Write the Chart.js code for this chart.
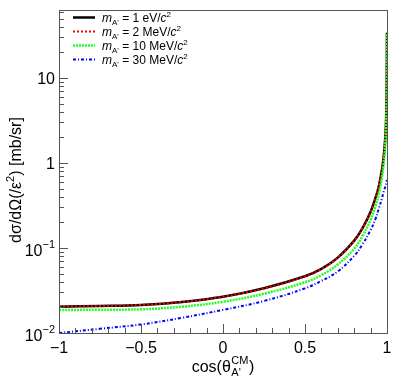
<!DOCTYPE html>
<html>
<head>
<meta charset="utf-8">
<script src="https://cdn.jsdelivr.net/npm/chart.js@4.4.1/dist/chart.umd.min.js"></script>
<style>
body { margin: 0; background: #fff; }
#wrap { width: 394px; height: 381px; }
</style>
</head>
<body>
<div id="wrap"><canvas id="chartCanvas" width="394" height="381"></canvas></div>
<script>
// cos(theta_A'^CM) sample points and cross sections (mb/sr per eps^2)
const cosTheta  = [-1, -0.75, -0.5, -0.25, 0, 0.25, 0.5, 0.6, 0.7, 0.8, 0.85, 0.9, 0.93, 0.95, 0.97, 0.98, 0.99, 0.995, 0.998, 1];
const mass1eV   = [0.0204, 0.0208, 0.0214, 0.0232, 0.0267, 0.0336, 0.0465, 0.0567, 0.077, 0.122, 0.17, 0.267, 0.39, 0.53, 0.85, 1.2, 2.04, 3.5, 8, 34];
const mass2MeV  = [0.0204, 0.0208, 0.0214, 0.0232, 0.0267, 0.0335, 0.0463, 0.0565, 0.077, 0.121, 0.17, 0.265, 0.39, 0.53, 0.84, 1.19, 2.0, 3.45, 7.9, 33];
const mass10MeV = [0.0186, 0.0188, 0.019, 0.0204, 0.0233, 0.029, 0.0395, 0.048, 0.064, 0.098, 0.137, 0.215, 0.31, 0.43, 0.70, 1.0, 1.75, 3.1, 7, 33];
const mass30MeV = [0.0100, 0.0112, 0.0126, 0.0151, 0.0187, 0.0238, 0.0335, 0.041, 0.053, 0.081, 0.11, 0.163, 0.22, 0.29, 0.39, 0.46, 0.53, 0.58, 0.61, 0.63];

const legendMasses = ['1 eV', '2 MeV', '10 MeV', '30 MeV'];
const xTickValues = [-1, -0.5, 0, 0.5, 1];
const xTickLabels = ['\u22121', '\u22120.5', '0', '0.5', '1'];
const yTickValues = [0.01, 0.1, 1, 10];
const yTickLabels = [['10', '\u22122'], ['10', '\u22121'], ['1', ''], ['10', '']];

const FONT = '"Liberation Sans", Arial, sans-serif';

function pts(ys) {
    return cosTheta.map((x, i) => ({ x: x, y: ys[i] }));
}

const seriesStyle = [
    { data: mass1eV,   color: '#000000', width: 2.5, dash: [] },
    { data: mass2MeV,  color: '#ff0000', width: 2,   dash: [2, 2] },
    { data: mass10MeV, color: '#22ff22', width: 2.5, dash: [2, 1] },
    { data: mass30MeV, color: '#0000ff', width: 2,   dash: [3, 2, 1, 2] }
];

// draw text made of pieces: {t, size, italic, dy}
function richWidth(ctx, parts) {
    let w = 0;
    parts.forEach(p => {
        ctx.font = (p.italic ? 'italic ' : '') + p.size + 'px ' + FONT;
        w += ctx.measureText(p.t).width;
    });
    return w;
}
function richText(ctx, parts, x, y) {
    parts.forEach(p => {
        ctx.font = (p.italic ? 'italic ' : '') + p.size + 'px ' + FONT;
        ctx.fillText(p.t, x, y + (p.dy || 0));
        x += ctx.measureText(p.t).width;
    });
    return x;
}

const decorPlugin = {
    id: 'decor',
    afterDatasetsDraw(chart) {
        const ctx = chart.ctx;
        const a = chart.chartArea;
        const xs = chart.scales.x, ys = chart.scales.y;
        ctx.save();
        ctx.strokeStyle = '#555';
        ctx.lineWidth = 1;
        ctx.setLineDash([]);
        ctx.strokeRect(Math.round(a.left) + 0.5, Math.round(a.top) + 0.5,
                       Math.round(a.right - a.left), Math.round(a.bottom - a.top));

        // x ticks (inside, pointing up)
        ctx.beginPath();
        for (let i = 0; i <= 20; i++) {
            const v = -1 + i * 0.1;
            const px = Math.round(xs.getPixelForValue(v)) + 0.5;
            const len = (i % 5 === 0) ? 9 : 5;
            ctx.moveTo(px, a.bottom);
            ctx.lineTo(px, a.bottom - len);
        }
        // y ticks (inside, pointing right)
        for (let d = -2; d <= 1; d++) {
            for (let k = 1; k <= 9; k++) {
                const v = k * Math.pow(10, d);
                if (v > ys.max) break;
                const py = Math.round(ys.getPixelForValue(v)) + 0.5;
                const len = (k === 1) ? 9 : 5;
                ctx.moveTo(a.left, py);
                ctx.lineTo(a.left + len, py);
            }
        }
        ctx.stroke();

        ctx.fillStyle = '#000';
        // x tick labels
        ctx.textAlign = 'center';
        ctx.textBaseline = 'alphabetic';
        ctx.font = '16px ' + FONT;
        xTickValues.forEach((v, i) => {
            ctx.fillText(xTickLabels[i], xs.getPixelForValue(v), a.bottom + 20);
        });

        // y tick labels with exponents
        ctx.textAlign = 'left';
        yTickValues.forEach((v, i) => {
            const py = ys.getPixelForValue(v);
            const lab = yTickLabels[i];
            const parts = [{ t: lab[0], size: 16 }];
            let dy = 6;
            if (lab[1]) {
                parts.push({ t: lab[1], size: 11, dy: -8 });
                dy = 8;
            }
            const w = richWidth(ctx, parts);
            richText(ctx, parts, a.left - 4 - w, py + dy);
        });

        // x axis title
        const xt1 = [{ t: 'cos(\u03b8', size: 16 }];
        const w1 = richWidth(ctx, xt1);
        ctx.font = '11px ' + FONT;
        const wSup = ctx.measureText('CM').width;
        const wSub = ctx.measureText("A'").width;
        const wScript = Math.max(wSup, wSub);
        ctx.font = '16px ' + FONT;
        const wClose = ctx.measureText(')').width;
        const total = w1 + wScript + wClose + 1;
        let tx = (a.left + a.right) / 2 - total / 2;
        const base = 372;
        tx = richText(ctx, xt1, tx, base);
        ctx.font = '11px ' + FONT;
        ctx.fillText('CM', tx + 0.5, base - 8);
        ctx.fillText("A'", tx + 0.5, base + 4);
        tx += wScript + 1;
        ctx.font = '16px ' + FONT;
        ctx.fillText(')', tx, base);

        // y axis title (rotated)
        ctx.save();
        ctx.translate(21, 180);
        ctx.rotate(-Math.PI / 2);
        const yt = [
            { t: 'd\u03c3/d\u03a9(/\u03b5', size: 16 },
            { t: '2', size: 11, dy: -7 },
            { t: ') [mb/sr]', size: 16 }
        ];
        const yw = richWidth(ctx, yt);
        richText(ctx, yt, -yw / 2, 0);
        ctx.restore();

        // legend
        const rows = [17.5, 31.5, 45.5, 59.5];
        seriesStyle.forEach((s, i) => {
            const y = rows[i];
            ctx.strokeStyle = s.color;
            ctx.lineWidth = s.width;
            ctx.setLineDash(s.dash);
            ctx.beginPath();
            ctx.moveTo(73, y);
            ctx.lineTo(95, y);
            ctx.stroke();
            ctx.setLineDash([]);
            const parts = [
                { t: 'm', size: 12, italic: true },
                { t: "A'", size: 8, dy: 3 },
                { t: ' = ' + legendMasses[i] + '/', size: 12 },
                { t: 'c', size: 12, italic: true },
                { t: '2', size: 8, dy: -5 }
            ];
            richText(ctx, parts, 102, y + 4);
        });
        ctx.restore();
    }
};

const ctx = document.getElementById('chartCanvas').getContext('2d');
new Chart(ctx, {
    type: 'line',
    data: {
        datasets: seriesStyle.map((s, i) => ({
            label: legendMasses[i],
            data: pts(s.data),
            borderColor: s.color,
            borderWidth: s.width,
            borderDash: s.dash,
            pointRadius: 0,
            fill: false,
            tension: 0.4,
            order: 4 - i
        }))
    },
    options: {
        responsive: false,
        animation: false,
        layout: { padding: { left: 0, right: 7, top: 10, bottom: 0 } },
        plugins: { legend: { display: false }, tooltip: { enabled: false } },
        scales: {
            x: {
                type: 'linear', min: -1, max: 1,
                grid: { display: false }, border: { display: false },
                ticks: { display: false },
                afterFit(scale) { scale.height = 48; }
            },
            y: {
                type: 'logarithmic', min: 0.01, max: 63,
                grid: { display: false }, border: { display: false },
                ticks: { display: false },
                afterFit(scale) { scale.width = 59; }
            }
        }
    },
    plugins: [decorPlugin]
});
</script>
</body>
</html>
